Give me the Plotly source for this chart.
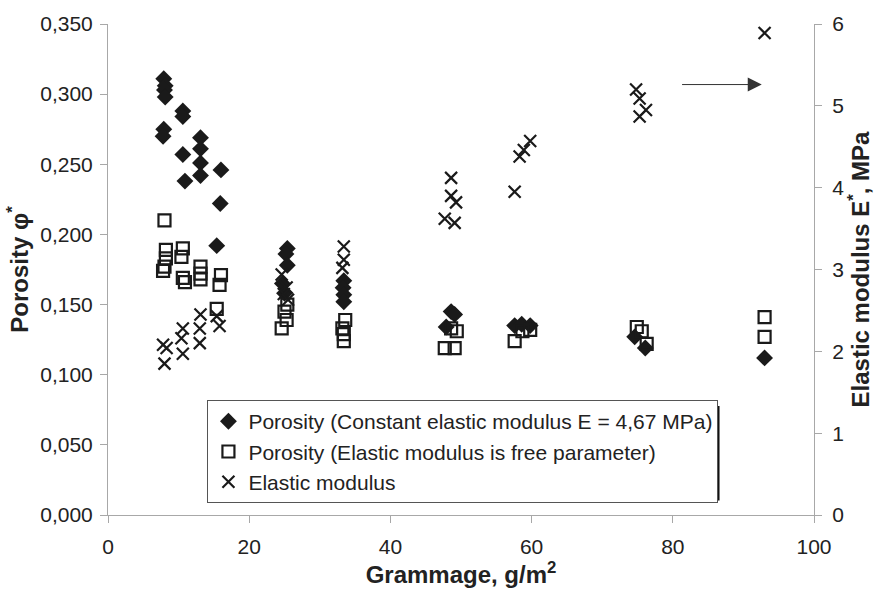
import plotly.graph_objects as go

# Porosity (constant elastic modulus E = 4,67 MPa) - filled diamonds
por_const_x = [7.9, 8.1, 8.0, 8.1, 7.9, 7.8, 10.6, 10.6, 10.6, 10.9, 13.1, 13.1, 13.1, 13.1,
               16.0, 15.9, 15.4,
               25.4, 25.2, 25.4, 24.7, 25.0,
               33.4, 33.3, 33.4, 33.4,
               48.6, 49.1, 47.9,
               57.6, 58.6, 59.8,
               74.6, 76.1,
               93.0]
por_const_y = [0.311, 0.306, 0.303, 0.298, 0.275, 0.270, 0.288, 0.284, 0.257, 0.238,
               0.269, 0.261, 0.251, 0.242,
               0.246, 0.222, 0.192,
               0.190, 0.186, 0.178, 0.165, 0.158,
               0.167, 0.162, 0.157, 0.152,
               0.145, 0.143, 0.134,
               0.135, 0.136, 0.135,
               0.127, 0.119,
               0.112]

# Porosity (elastic modulus is free parameter) - open squares
por_free_x = [8.0, 8.2, 8.2, 7.8, 8.0, 10.6, 10.4, 10.6, 10.9, 13.1, 13.1, 13.1,
              16.0, 15.8, 15.4,
              24.6, 25.3, 25.4, 25.0,
              33.6, 33.2, 33.4, 33.4,
              47.7, 49.1, 49.4, 48.6,
              57.6, 58.7, 59.8,
              74.9, 75.6, 76.3,
              93.0, 93.0]
por_free_y = [0.210, 0.189, 0.183, 0.174, 0.177, 0.190, 0.184, 0.169, 0.166, 0.177, 0.172, 0.168,
              0.171, 0.164, 0.147,
              0.133, 0.139, 0.150, 0.145,
              0.139, 0.133, 0.129, 0.124,
              0.119, 0.119, 0.131, 0.133,
              0.124, 0.131, 0.132,
              0.134, 0.131, 0.122,
              0.141, 0.127]

# Elastic modulus (right axis) - crosses
emod_x = [7.8, 8.3, 8.0, 10.6, 10.4, 10.6, 13.1, 13.0, 13.0, 15.4, 15.8,
          24.6, 25.3, 24.9, 25.5,
          33.4, 33.4, 33.2,
          48.6, 48.6, 49.3, 47.7, 49.1,
          57.6, 58.3, 58.9, 59.8,
          74.8, 75.3, 76.2, 75.3,
          93.0]
emod_y = [2.08, 2.04, 1.85, 2.28, 2.16, 1.97, 2.45, 2.28, 2.10, 2.43, 2.31,
          2.94, 2.78, 2.70, 2.63,
          3.28, 3.12, 3.02,
          4.12, 3.90, 3.82, 3.62, 3.57,
          3.95, 4.38, 4.46, 4.57,
          5.20, 5.09, 4.95, 4.87,
          5.89]

x_ticks = [0, 20, 40, 60, 80, 100]
y_ticks = [0.0, 0.05, 0.10, 0.15, 0.20, 0.25, 0.30, 0.35]
y2_ticks = [0, 1, 2, 3, 4, 5, 6]

arrow_tail = (81.1, 5.26)
arrow_tip = (92.6, 5.26)

FONT = "Arial, Liberation Sans, Helvetica, sans-serif"
INK = "#1a1a1a"
AX = "#a8a8a8"

fig = go.Figure()
fig.add_trace(go.Scatter(
    x=por_const_x, y=por_const_y, mode="markers",
    name="Porosity (Constant elastic modulus E = 4,67 MPa)",
    legendgroup="a",
    marker=dict(symbol="diamond", size=13, color=INK, line=dict(width=0))))
fig.add_trace(go.Scatter(
    x=por_free_x, y=por_free_y, mode="markers",
    name="Porosity (Elastic modulus is free parameter)",
    legendgroup="b",
    marker=dict(symbol="square-open", size=12, color=INK, line=dict(width=2.2, color=INK))))
fig.add_trace(go.Scatter(
    x=emod_x, y=emod_y, mode="markers", yaxis="y2",
    name="Elastic modulus",
    legendgroup="c",
    marker=dict(symbol="x-thin-open", size=12, color=INK, line=dict(width=2.2, color=INK))))

fig.add_annotation(x=arrow_tip[0], y=arrow_tip[1], ax=arrow_tail[0], ay=arrow_tail[1],
                   xref="x", yref="y2", axref="x", ayref="y2", text="",
                   showarrow=True, arrowhead=2, arrowsize=2.8, arrowwidth=1.0,
                   arrowcolor="#333", standoff=0)

# legend shadow (paper coords)
px0, px1, py0, py1 = 108, 818, 519, 15
def pxx(p):
    return (p - px0) / (px1 - px0)
def pxy(p):
    return (py0 - p) / (py0 - py1)

fig.add_shape(type="rect", xref="paper", yref="paper",
              x0=pxx(213), x1=pxx(723), y0=pxy(504), y1=pxy(407),
              fillcolor="#111", line=dict(width=0), layer="above")

fig.update_layout(
    width=877, height=593,
    margin=dict(l=108, r=59, t=15, b=74),
    paper_bgcolor="white", plot_bgcolor="white",
    separators=", ",
    font=dict(family=FONT, size=21, color="#222"),
    showlegend=True,
    legend=dict(x=pxx(208), y=pxy(401), xanchor="left", yanchor="top",
                bgcolor="white", bordercolor="#555", borderwidth=1,
                font=dict(family=FONT, size=21, color="#222"),
                traceorder="grouped", tracegroupgap=0, itemwidth=30),
    xaxis=dict(range=[0, 100], tickvals=x_ticks, showgrid=False, zeroline=False,
               showline=True, linecolor=AX, linewidth=1, ticks="outside", ticklen=7,
               tickcolor=AX, tickfont=dict(size=21), ticklabelstandoff=6,
               title=dict(text="<b>Grammage, g/m<sup>2</sup></b>", font=dict(size=24, color="#222"), standoff=6)),
    yaxis=dict(range=[0, 0.35], tickvals=y_ticks, tickformat=".3f", showgrid=False, zeroline=False,
               showline=True, linecolor=AX, linewidth=1, ticks="outside", ticklen=7,
               tickcolor=AX, tickfont=dict(size=21), ticklabelstandoff=3,
               title=dict(text="<b>Porosity φ<sup>*</sup></b>", font=dict(size=24, color="#222"), standoff=4)),
    yaxis2=dict(range=[0, 6], tickvals=y2_ticks, overlaying="y", side="right", showgrid=False,
                zeroline=False, showline=True, linecolor=AX, linewidth=1, ticks="outside",
                ticklen=7, tickcolor=AX, tickfont=dict(size=21), ticklabelstandoff=6,
                title=dict(text="<b>Elastic modulus E<sup>*</sup>, MPa</b>", font=dict(size=24, color="#222"), standoff=4)),
)

fig.write_html("out.html")
